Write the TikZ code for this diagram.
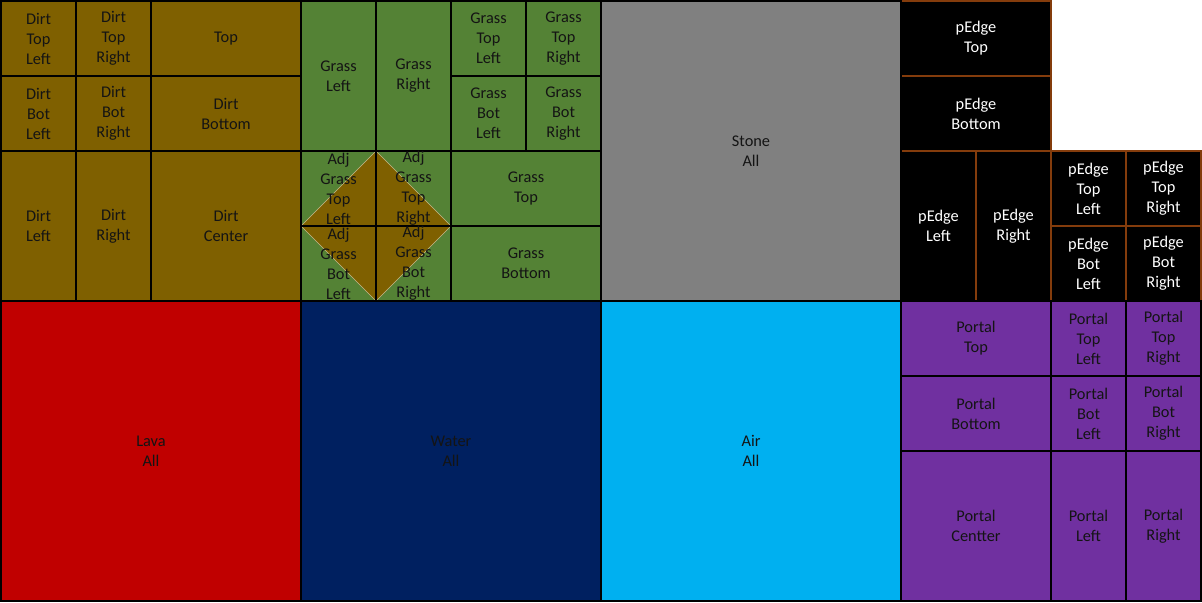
\documentclass[tikz,border=0pt]{standalone}
\usepackage{fontspec}
\setmainfont{Carlito}
\usetikzlibrary{positioning, backgrounds}
\definecolor{dirtCol}{HTML}{7F6000}
\definecolor{grassCol}{HTML}{548235}
\definecolor{stoneCol}{HTML}{808080}
\definecolor{lavaCol}{HTML}{C00000}
\definecolor{waterCol}{HTML}{002060}
\definecolor{airCol}{HTML}{00B0F0}
\definecolor{portalCol}{HTML}{7030A0}
\definecolor{pedgeLine}{HTML}{843C0C}
\definecolor{inkCol}{HTML}{141414}
\tikzset{
  tile/.style = {rectangle, draw=black, line width=1.4pt, inner sep=0pt,
    outer sep=0pt, anchor=north west, align=center, text=inkCol,
    font=\fontsize{9.3}{11.34}\selectfont},
  one/.style = {minimum width=1.5cm, minimum height=1.5cm},
  wide/.style = {minimum width=3cm, minimum height=1.5cm},
  tall/.style = {minimum width=1.5cm, minimum height=3cm},
  big/.style = {minimum width=3cm, minimum height=3cm},
  huge/.style = {minimum width=6cm, minimum height=6cm},
  dirt/.style = {tile, fill=dirtCol},
  grass/.style = {tile, fill=grassCol},
  adj/.style = {tile, one},
  stone/.style = {tile, fill=stoneCol},
  lava/.style = {tile, fill=lavaCol},
  water/.style = {tile, fill=waterCol},
  air/.style = {tile, fill=airCol},
  portal/.style = {tile, fill=portalCol},
  pedge/.style = {tile, fill=black, draw=pedgeLine, text=white},
}

\begin{document}
\begin{tikzpicture}[x=1.5cm, y=-1.5cm]
\useasboundingbox (-0.0134,-0.0134) rectangle (16.0134,8.0134);

% pEdge first, black borders go over its edges
\node[pedge, wide] (peT) at (12,0) {pEdge\\Top};
\node[pedge, wide] (peB) at (12,1) {pEdge\\Bottom};
\node[pedge, tall] (peL) at (12,2) {pEdge\\Left};
\node[pedge, tall] (peR) at (13,2) {pEdge\\Right};
\node[pedge, one] (peTL) at (14,2) {pEdge\\Top\\Left};
\node[pedge, one] (peTR) at (15,2) {pEdge\\Top\\Right};
\node[pedge, one] (peBL) at (14,3) {pEdge\\Bot\\Left};
\node[pedge, one] (peBR) at (15,3) {pEdge\\Bot\\Right};

% dirt
\node[dirt, one] (dTL) at (0,0) {Dirt\\Top\\Left};
\node[dirt, one] (dTR) at (1,0) {Dirt\\Top\\Right};
\node[dirt, wide] (dT) at (2,0) {Top};
\node[dirt, one] (dBL) at (0,1) {Dirt\\Bot\\Left};
\node[dirt, one] (dBR) at (1,1) {Dirt\\Bot\\Right};
\node[dirt, wide] (dB) at (2,1) {Dirt\\Bottom};
\node[dirt, tall] (dL) at (0,2) {Dirt\\Left};
\node[dirt, tall] (dR) at (1,2) {Dirt\\Right};
\node[dirt, big] (dC) at (2,2) {Dirt\\Center};

% grass
\node[grass, tall] (gL) at (4,0) {Grass\\Left};
\node[grass, tall] (gR) at (5,0) {Grass\\Right};
\node[grass, one] (gTL) at (6,0) {Grass\\Top\\Left};
\node[grass, one] (gTR) at (7,0) {Grass\\Top\\Right};
\node[grass, one] (gBL) at (6,1) {Grass\\Bot\\Left};
\node[grass, one] (gBR) at (7,1) {Grass\\Bot\\Right};
\node[adj] (aTL) at (4,2) {Adj\\Grass\\Top\\Left};
\node[adj] (aTR) at (5,2) {Adj\\Grass\\Top\\Right};
\node[adj] (aBL) at (4,3) {Adj\\Grass\\Bot\\Left};
\node[adj] (aBR) at (5,3) {Adj\\Grass\\Bot\\Right};
\node[grass, wide] (gT) at (6,2) {Grass\\Top};
\node[grass, wide] (gB) at (6,3) {Grass\\Bottom};

\begin{pgfonlayer}{background}
  \fill[grassCol] (aTL.north west) rectangle (aBR.south east);
  \filldraw[fill=dirtCol, draw=dirtCol!45!white, line width=0.3pt]
    (aTL.north east) -- (aTR.south east) -- (aBR.south west)
    -- (aTL.south west) -- cycle;
\end{pgfonlayer}

% stone
\node[stone, huge] (stone) at (8,0) {Stone\\All};

% liquids and air
\node[lava, huge] (lava) at (0,4) {Lava\\All};
\node[water, huge] (water) at (4,4) {Water\\All};
\node[air, huge] (air) at (8,4) {Air\\All};

% portal
\node[portal, wide] (pT) at (12,4) {Portal\\Top};
\node[portal, wide] (pB) at (12,5) {Portal\\Bottom};
\node[portal, big] (pC) at (12,6) {Portal\\Centter};
\node[portal, one] (pTL) at (14,4) {Portal\\Top\\Left};
\node[portal, one] (pTR) at (15,4) {Portal\\Top\\Right};
\node[portal, one] (pBL) at (14,5) {Portal\\Bot\\Left};
\node[portal, one] (pBR) at (15,5) {Portal\\Bot\\Right};
\node[portal, tall] (pL) at (14,6) {Portal\\Left};
\node[portal, tall] (pR) at (15,6) {Portal\\Right};

\end{tikzpicture}
\end{document}
